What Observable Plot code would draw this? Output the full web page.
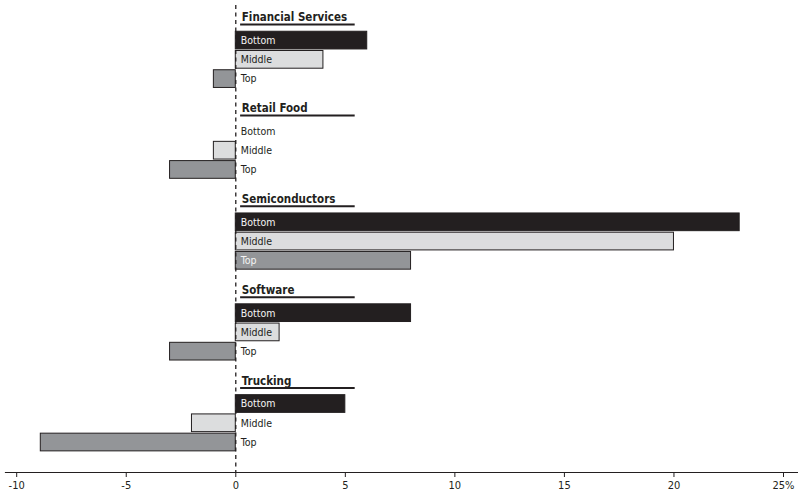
<!DOCTYPE html>
<html><head><meta charset="utf-8">
<script src="https://cdn.jsdelivr.net/npm/d3@7"></script>
<script src="https://cdn.jsdelivr.net/npm/@observablehq/plot@0.6"></script>
<style>body{margin:0;background:#fff}</style>
</head><body><div id="chart"></div>
<script>
const sectors = ["Financial Services", "Retail Food", "Semiconductors", "Software", "Trucking"];
const tiers = ["Bottom", "Middle", "Top"];
const bottomValues = [6, 0, 23, 8, 5];
const middleValues = [4, -1, 20, 2, -2];
const topValues = [-1, -3, 8, -3, -8.9];
const xTicks = [-10, -5, 0, 5, 10, 15, 20, 25];
const tierFill = {Bottom: "#231f20", Middle: "#dcddde", Top: "#939598"};

const GROUP_STEP = 4.72, FIRST_BAR = 1.2;
const rows = [];
sectors.forEach((s, g) => {
  [bottomValues, middleValues, topValues].forEach((arr, k) => {
    rows.push({sector: s, tier: tiers[k], value: arr[g], pos: g * GROUP_STEP + FIRST_BAR + k});
  });
});
const titles = sectors.map((s, g) => ({sector: s, pos: g * GROUP_STEP}));

const ink = "#231f20";
const chart = Plot.plot({
  width: 798, height: 501,
  marginLeft: 5, marginRight: 0, marginTop: 5, marginBottom: 29,
  style: {fontFamily: "'Liberation Sans Narrow', 'DejaVu Sans Condensed', sans-serif", fontSize: "11px", color: ink, background: "#fff"},
  x: {domain: [-10, 25], range: [16.2, 783], ticks: xTicks, tickFormat: d => d === 25 ? "25%" : String(d), tickSize: 5, label: null},
  y: {domain: [0, 23.3], range: [17, 465.5], axis: null},
  color: {type: "identity"},
  marks: [
    Plot.rect(rows.filter(d => d.value !== 0), {
      x1: () => 0, x2: "value", y1: d => d.pos - 0.46, y2: d => d.pos + 0.46,
      fill: d => tierFill[d.tier], stroke: ink, strokeWidth: 1
    }),
    Plot.ruleX([0], {stroke: ink, strokeWidth: 1.3, strokeDasharray: "4,3.5"}),
    Plot.text(rows, {
      x: () => 0, y: "pos", text: "tier", textAnchor: "start", dx: 5, fontSize: 10.5,
      fill: d => d.value > 0 && d.tier !== "Middle" ? "#f4f4f4" : ink
    }),
    Plot.text(titles, {x: () => 0, y: "pos", text: "sector", textAnchor: "start", dx: 6, fontSize: 11.5, fontWeight: "bold", fill: ink}),
    Plot.ruleY(titles, {y: d => d.pos + 0.37, x1: () => 0.22, x2: () => 5.45, stroke: ink, strokeWidth: 2}),
    Plot.frame({anchor: "bottom", stroke: ink, strokeWidth: 1.2})
  ]
});
document.getElementById("chart").appendChild(chart);
</script>
</body></html>
